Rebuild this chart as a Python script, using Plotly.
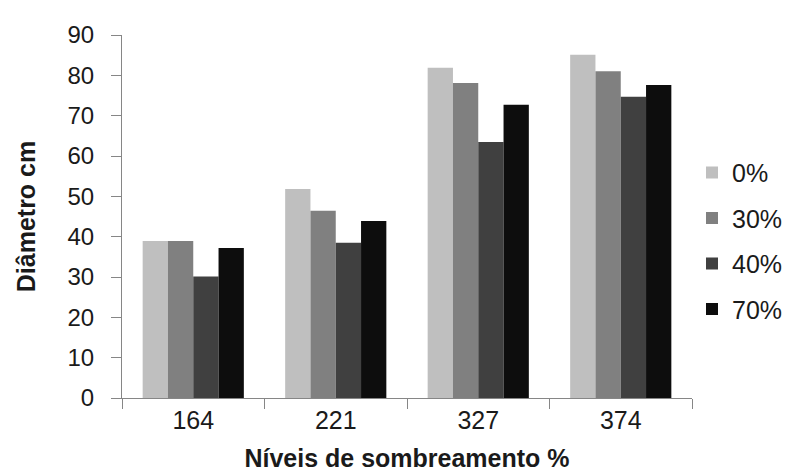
import plotly.graph_objects as go

categories = ["164", "221", "327", "374"]
series_names = ["0%", "30%", "40%", "70%"]
values_0 = [38.9, 51.8, 81.9, 85.1]
values_30 = [38.9, 46.4, 78.1, 81.0]
values_40 = [30.1, 38.5, 63.5, 74.7]
values_70 = [37.2, 43.9, 72.7, 77.6]
colors = ["#bfbfbf", "#808080", "#404040", "#0d0d0d"]
y_ticks = [0, 10, 20, 30, 40, 50, 60, 70, 80, 90]

series = [values_0, values_30, values_40, values_70]

fig = go.Figure()
for name, vals, col in zip(series_names, series, colors):
    fig.add_trace(go.Bar(x=categories, y=vals, name=name, marker_color=col,
                         marker_line_width=0, legendgroup=name))

axis_col = "#868686"
font_fam = "Liberation Sans, Arial, sans-serif"
fig.update_layout(
    width=792, height=472,
    margin=dict(l=114, r=86, t=27, b=80),
    paper_bgcolor="white", plot_bgcolor="white",
    barmode="group", bargap=0.29, bargroupgap=0,
    font=dict(family=font_fam, size=24, color="#1a1a1a"),
    legend=dict(x=1.0, y=0.433, xanchor="left", yanchor="middle",
                traceorder="grouped", tracegroupgap=10,
                font=dict(size=25), itemwidth=30),
    xaxis=dict(type="category", showline=True, linecolor=axis_col, linewidth=1,
               ticks="outside", tickson="boundaries", ticklen=10, tickcolor=axis_col,
               showgrid=False, zeroline=False, tickfont=dict(size=25),
               title=dict(text="<b>Níveis de sombreamento %</b>", font=dict(size=25), standoff=16)),
    yaxis=dict(range=[0, 90], tickvals=y_ticks, showline=True, linecolor=axis_col, linewidth=1,
               ticks="outside", ticklen=10, tickcolor=axis_col, showgrid=False, zeroline=False,
               ticklabelstandoff=12, tickfont=dict(size=24),
               title=dict(text="<b>Diâmetro cm</b>", font=dict(size=25), standoff=24)),
)

fig.write_html("out.html")
